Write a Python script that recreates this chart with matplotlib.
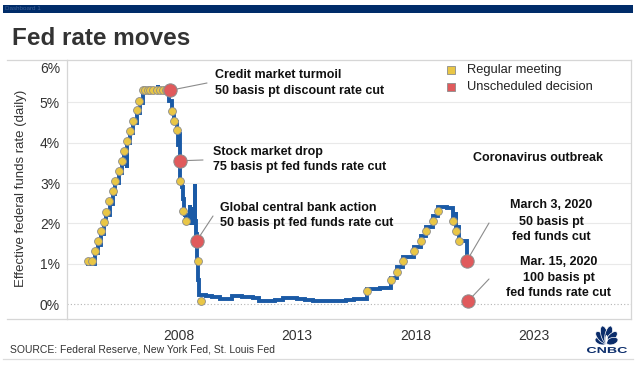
import numpy as np
import pandas as pd
import matplotlib
matplotlib.use('Agg')
import matplotlib.pyplot as plt
import matplotlib.dates as mdates
from matplotlib.patches import Rectangle, Ellipse, PathPatch
from matplotlib.lines import Line2D
from matplotlib.textpath import TextPath
from matplotlib.font_manager import FontProperties
from matplotlib.transforms import Affine2D, ScaledTranslation

W, H = 638, 377
FONT = ['Liberation Sans', 'DejaVu Sans']
plt.rcParams['font.family'] = FONT

# ---------------- data ----------------
rate_dates = ["2004-03-01", "2004-07-01", "2004-08-11", "2004-09-22", "2004-11-11", "2004-12-15",
              "2005-02-03", "2005-03-23", "2005-05-04", "2005-07-01", "2005-08-10", "2005-09-21",
              "2005-10-24", "2005-10-27", "2005-11-02", "2005-12-14", "2006-02-01", "2006-03-29",
              "2006-05-11", "2006-06-30", "2007-02-20", "2007-02-26", "2007-08-10", "2007-09-19",
              "2007-11-01", "2007-12-12", "2007-12-31", "2008-01-04", "2008-01-23", "2008-01-31",
              "2008-03-01", "2008-03-10", "2008-03-19", "2008-04-10", "2008-05-01", "2008-06-30",
              "2008-07-03", "2008-08-01", "2008-08-04", "2008-09-15", "2008-09-18", "2008-09-26",
              "2008-10-09", "2008-10-20", "2008-10-30", "2008-11-12", "2009-03-01", "2009-06-01",
              "2009-10-01", "2010-02-01", "2010-04-01", "2010-09-01", "2011-03-01", "2011-06-01",
              "2011-10-01", "2012-02-01", "2012-06-01", "2012-10-01", "2013-01-01", "2013-05-01",
              "2013-09-01", "2014-01-01", "2014-06-01", "2015-02-01", "2015-06-01", "2015-10-01",
              "2015-12-17", "2016-07-01", "2016-12-15", "2017-03-16", "2017-06-15", "2017-12-14",
              "2018-03-22", "2018-06-14", "2018-09-27", "2018-12-20", "2019-05-02", "2019-08-01",
              "2019-09-17", "2019-09-19", "2019-10-31", "2020-03-03", "2020-03-05"]
rate_values = [1.00, 1.27, 1.47, 1.75, 1.98, 2.22,
               2.48, 2.74, 2.99, 3.24, 3.48, 3.74,
               3.38, 3.76, 3.99, 4.24, 4.49, 4.74,
               4.98, 5.25, 5.43, 5.26, 5.02, 4.78,
               4.52, 4.26, 3.95, 4.22, 3.50, 3.00,
               2.90, 2.60, 2.30, 2.20, 2.00, 2.45,
               2.00, 2.40, 2.02, 2.98, 2.05, 1.75,
               1.50, 1.10, 0.60, 0.22, 0.20, 0.18,
               0.13, 0.12, 0.20, 0.19, 0.15, 0.09,
               0.08, 0.11, 0.16, 0.15, 0.14, 0.10,
               0.08, 0.07, 0.09, 0.11, 0.13, 0.14,
               0.37, 0.40, 0.66, 0.91, 1.16, 1.42,
               1.68, 1.91, 2.19, 2.41, 2.38, 2.13,
               2.28, 1.90, 1.56, 1.10, 1.10]

regular_dates = ["2004-03-16", "2004-05-04", "2004-06-30", "2004-08-10", "2004-09-21", "2004-11-10",
                 "2004-12-14", "2005-02-02", "2005-03-22", "2005-05-03", "2005-06-30", "2005-08-09",
                 "2005-09-20", "2005-11-01", "2005-12-13", "2006-01-31", "2006-03-28", "2006-05-10",
                 "2006-06-29", "2006-08-08", "2006-09-20", "2006-10-25", "2006-12-12", "2007-01-31",
                 "2007-03-21", "2007-05-09", "2007-06-28", "2007-08-07", "2007-09-18", "2007-10-31",
                 "2007-12-11", "2008-01-30", "2008-03-18", "2008-04-30", "2008-10-29", "2008-12-16",
                 "2015-12-16", "2016-12-14", "2017-03-15", "2017-06-14", "2017-12-13", "2018-03-21",
                 "2018-06-13", "2018-09-26", "2018-12-19", "2019-07-31", "2019-09-18", "2019-10-30"]
regular_rates = [1.07, 1.07, 1.32, 1.57, 1.81, 2.04,
                 2.28, 2.55, 2.80, 3.05, 3.30, 3.54,
                 3.79, 4.05, 4.29, 4.54, 4.80, 5.04,
                 5.29, 5.29, 5.29, 5.29, 5.29, 5.29,
                 5.29, 5.29, 5.29, 5.29, 4.79, 4.54,
                 4.30, 3.04, 2.30, 2.05, 1.06, 0.07,
                 0.33, 0.59, 0.81, 1.06, 1.32, 1.57,
                 1.81, 2.06, 2.31, 2.06, 1.81, 1.57]

unscheduled_dates = ["2007-08-17", "2008-01-22", "2008-10-08", "2020-03-03", "2020-03-15"]
unscheduled_rates = [5.29, 3.55, 1.57, 1.08, 0.07]

year_ticks = [2008, 2013, 2018, 2023]
pct_ticks = [0, 1, 2, 3, 4, 5, 6]

BLUE = '#1a5aa6'
YELLOW = '#e9c646'
RED = '#e05a5c'
TXT = '#333333'
FRAME = '#d6d6d6'
NAVY = '#0b2d6b'


def fx(px):
    return px / W


def fy(py):
    return 1 - py / H


fig = plt.figure(figsize=(W / 100, H / 100), dpi=100)
fig.patch.set_facecolor('white')

# top navy bar
fig.add_artist(Rectangle((fx(3), fy(13)), fx(633) - fx(3), (13 - 5) / H,
                         transform=fig.transFigure, facecolor='#002c69', edgecolor='none'))
fig.text(fx(5), fy(9), 'Dashboard 1', fontsize=4.5, color='#3d5f95', va='center', ha='left')

# title
fig.text(fx(12), fy(45), 'Fed rate moves', fontsize=17.5, fontweight='bold', color=TXT,
         ha='left', va='baseline')

ax = fig.add_axes([fx(67), fy(319), (631 - 67) / W, (319 - 60) / H])
ax.set_facecolor('white')

line_x = mdates.date2num(pd.to_datetime(rate_dates))
ax.plot(line_x, rate_values, drawstyle='steps-post', color=BLUE, lw=2.8, zorder=3,
        solid_joinstyle='miter')

reg_x = mdates.date2num(pd.to_datetime(regular_dates))
ax.scatter(reg_x, regular_rates, s=32, color=YELLOW, edgecolors='#8c8c8c', linewidths=0.6, zorder=4)
uns_x = mdates.date2num(pd.to_datetime(unscheduled_dates))
ax.scatter(uns_x, unscheduled_rates, s=92, color=RED, edgecolors='#8c8c8c', linewidths=0.7, zorder=5)

# gridlines
for v in pct_ticks[1:-1]:
    ax.axhline(v, color='#e9e9e9', lw=0.8, zorder=0)
ax.axhline(0, color='#b5b5b5', lw=0.8, ls=(0, (1, 2)), zorder=0)

ax.set_xlim(mdates.date2num(pd.Timestamp('2003-04-20')), mdates.date2num(pd.Timestamp('2027-02-02')))
ax.set_ylim(-0.364, 6.043)

ax.set_yticks(pct_ticks)
ax.set_yticklabels([f'{v}%' for v in pct_ticks])
ax.set_xticks(mdates.date2num(pd.to_datetime([f'{y}-01-01' for y in year_ticks])))
ax.set_xticklabels([str(y) for y in year_ticks])
ax.tick_params(axis='both', length=0, labelsize=10, colors=TXT)
ax.tick_params(axis='y', pad=5)
ax.tick_params(axis='x', pad=7)
for lab in ax.get_yticklabels():
    if lab.get_text() == '6%':
        lab.set_transform(lab.get_transform() + ScaledTranslation(0, -6 / 100, fig.dpi_scale_trans))

for s in ax.spines.values():
    s.set_color(FRAME)
    s.set_linewidth(0.9)

# frame extensions to the left
for py in (60, 319):
    fig.add_artist(Line2D([fx(7), fx(67)], [fy(py), fy(py)], transform=fig.transFigure,
                          color=FRAME, lw=0.9))
fig.add_artist(Line2D([fx(3), fx(633)], [fy(359), fy(359)], transform=fig.transFigure,
                      color='#dcdcdc', lw=0.9))

fig.text(fx(21), fy(188.5), 'Effective federal funds rate (daily)', rotation=90, ha='center',
         va='center', fontsize=9.5, color=TXT)

# legend
for (py, col, lab) in [(70, YELLOW, 'Regular meeting'), (87, RED, 'Unscheduled decision')]:
    fig.add_artist(Rectangle((fx(447), fy(py + 4)), 8 / W, 8 / H, transform=fig.transFigure,
                             facecolor=col, edgecolor='#8c8c8c', lw=0.6))
    fig.text(fx(467), fy(py), lab, fontsize=9.3, color='#222222', ha='left', va='center')

# annotations
def lines_text(x, ys, texts, ha='left'):
    for y, t in zip(ys, texts):
        fig.text(fx(x), fy(y), t, fontsize=9, fontweight='bold', color='#111111', ha=ha, va='center')

lines_text(215, [75, 91], ['Credit market turmoil', '50 basis pt discount rate cut'])
lines_text(213, [152, 167], ['Stock market drop', '75 basis pt fed funds rate cut'])
lines_text(220, [208, 223], ['Global central bank action', '50 basis pt fed funds rate cut'])
lines_text(538, [158], ['Coronavirus outbreak'], ha='center')
lines_text(551, [205, 221.5, 237], ['March 3, 2020', '50 basis pt', 'fed funds cut'], ha='center')
lines_text(558.5, [262, 277.5, 293.5], ['Mar. 15, 2020', '100 basis pt', 'fed funds rate cut'], ha='center')

leader_ends = [(207, 83), (203, 160), (213, 216), (489, 223), (489, 279)]
for (px, py), xd, yd in zip(leader_ends, uns_x, unscheduled_rates):
    ax.annotate('', xy=(xd, yd), xycoords='data', xytext=(px, H - py), textcoords='figure pixels',
                arrowprops=dict(arrowstyle='-', color='#8c8c8c', lw=0.8, shrinkA=0, shrinkB=4.5),
                annotation_clip=False)

# source
fig.text(fx(10), fy(350), 'SOURCE: Federal Reserve, New York Fed, St. Louis Fed', fontsize=7.5,
         color=TXT, ha='left', va='center', family=['Liberation Sans Narrow', 'Liberation Sans'])

# CNBC logo
lax = fig.add_axes([fx(585), fy(355), 44 / W, 32 / H])
lax.set_xlim(0, 44)
lax.set_ylim(0, 32)
lax.axis('off')
base = (21.5, 12)
for ang, length in [(-72, 12), (-43, 15), (-14, 17.5), (14, 17.5), (43, 15), (72, 12)]:
    r = np.deg2rad(ang)
    cx = base[0] + np.sin(r) * length / 2
    cy = base[1] + np.cos(r) * length / 2
    lax.add_patch(Ellipse((cx, cy), 7, length, angle=-ang, facecolor=NAVY, edgecolor='white', lw=0.5))
lax.add_patch(Ellipse((base[0], base[1] + 4), 2.6, 8, facecolor='white', edgecolor='none'))
tp = TextPath((0, 0), 'CNBC', size=10, prop=FontProperties(family='Liberation Sans', weight='bold'))
ext = tp.get_extents()
sx = 40 / ext.width
sy = 6 / ext.height
tr = Affine2D().translate(-ext.x0, -ext.y0).scale(sx, sy).translate(2, 2)
lax.add_patch(PathPatch(tr.transform_path(tp), facecolor=NAVY, edgecolor='none'))

fig.savefig('out.png', dpi=100)
